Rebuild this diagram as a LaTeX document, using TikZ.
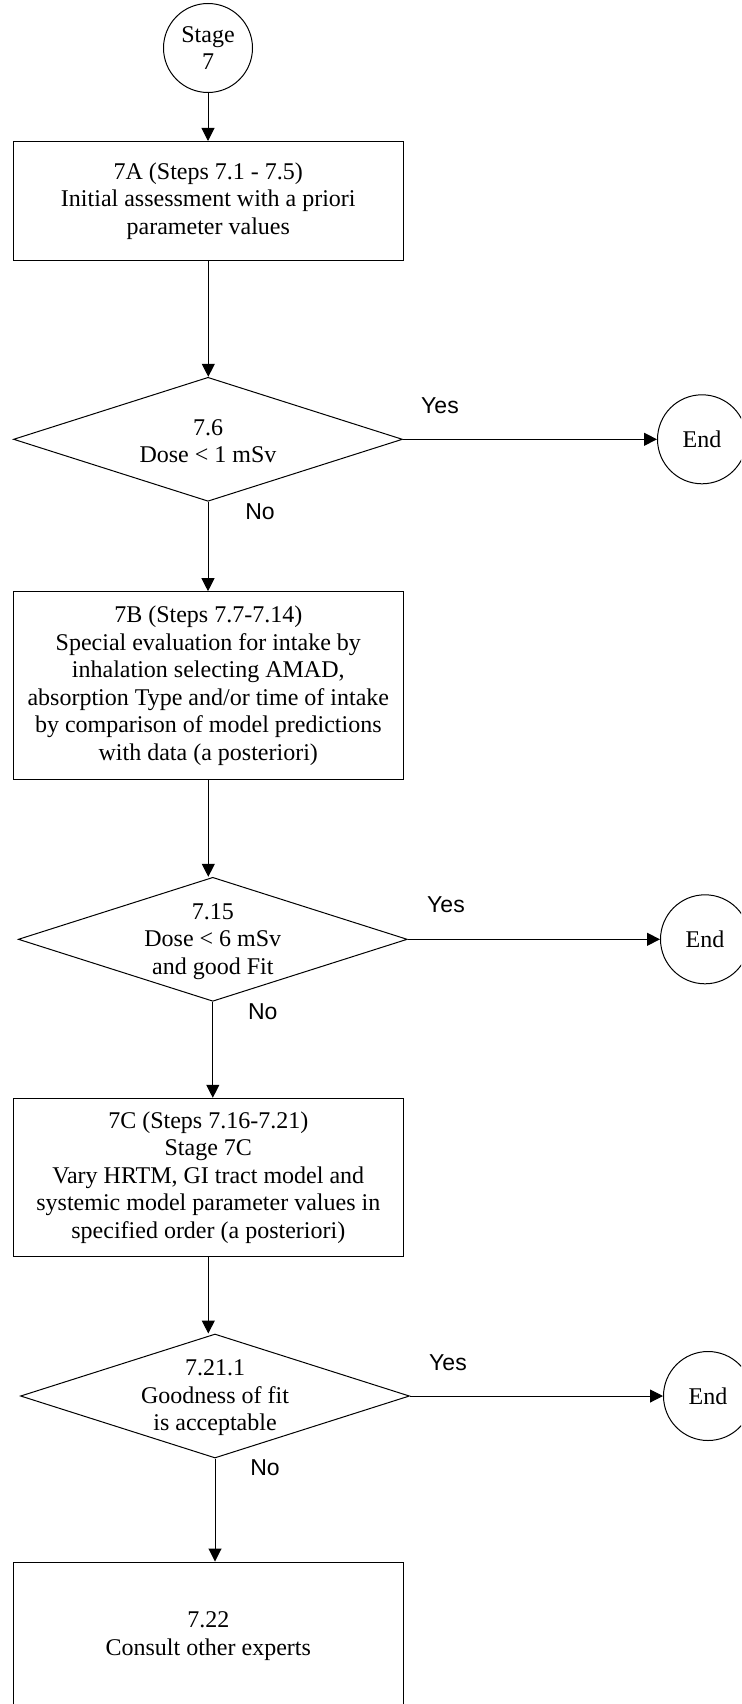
\documentclass[tikz,border=0pt]{standalone}
\usepackage{fontspec}
\setmainfont{Liberation Serif}
\newfontfamily\lblfont{Liberation Sans}
\usetikzlibrary{shapes.geometric,arrows.meta,calc}
\tikzset{
  base/.style={draw=black, line width=1pt},
  txt/.style={font=\fontsize{24}{27.5}\selectfont, align=center, inner sep=0pt},
  procbox/.style={base, rectangle, minimum width=390pt, inner sep=0pt, font=\fontsize{24}{27.5}\selectfont, align=center},
  termcirc/.style={base, circle, minimum size=89pt, inner sep=0pt, font=\fontsize{24}{27.5}\selectfont, align=center},
  decision/.style={base, diamond, minimum width=389pt, minimum height=124pt, inner sep=0pt},
  yn/.style={font=\lblfont\fontsize{23}{26}\selectfont, inner sep=0pt},
  arr/.style={line width=1pt, -{Triangle[length=13pt,width=13pt]}}
}
\begin{document}
\begin{tikzpicture}[x=1pt,y=-1pt]
\useasboundingbox (0,0) rectangle (741,1704);
\clip (0,0) rectangle (741,1704);
% start
\node[termcirc] (stage) at (208,48) {Stage\\7};
% box A
\node[procbox, minimum height=119pt] (A) at (208.3,201) {7A (Steps 7.1 - 7.5)\\Initial assessment with a priori\\parameter values};
% decision 1
\node[decision] (d1) at (208,439.3) {};
\node[txt] (d1t) at (208,441) {7.6\\Dose {\textless} 1 mSv};
\node[termcirc] (e1) at (702,439.3) {End};
\node[yn] (y1) at (440,406) {Yes};
\node[yn] (n1) at (260,511.7) {No};
% box B
\node[procbox, minimum height=187.6pt] (B) at (208.3,685.5) {7B (Steps 7.7-7.14)\\Special evaluation for intake by\\inhalation selecting AMAD,\\absorption Type and/or time of intake\\by comparison of model predictions\\with data (a posteriori)};
% decision 2
\node[decision] (d2) at (212.8,939.3) {};
\node[txt] (d2t) at (212.8,941.5) {7.15\\Dose {\textless} 6 mSv\\and good Fit};
\node[termcirc] (e2) at (705,939.3) {End};
\node[yn] (y2) at (446,905) {Yes};
\node[yn] (n2) at (262.7,1011.7) {No};
% box C
\node[procbox, minimum height=158.4pt] (C) at (208.3,1177.5) {7C (Steps 7.16-7.21)\\Stage 7C\\Vary HRTM, GI tract model and\\systemic model parameter values in\\specified order (a posteriori)};
% decision 3
\node[decision] (d3) at (215,1396) {};
\node[txt] (d3t) at (215,1398) {7.21.1\\Goodness of fit\\is acceptable};
\node[termcirc] (e3) at (708,1396) {End};
\node[yn] (y3) at (448,1363) {Yes};
\node[yn] (n3) at (265,1467.7) {No};
% box D
\node[procbox, minimum height=148pt] (D) at (208.3,1636) {7.22\\Consult other experts};
% connectors
\draw[arr] (stage.south) -- (stage.south |- A.north);
\draw[arr] (A.south) -- (A.south |- d1.north);
\draw[arr] (d1.south) -- (d1.south |- B.north);
\draw[arr] (B.south) -- (B.south |- d2.north);
\draw[arr] (d2.south) -- (d2.south |- C.north);
\draw[arr] (C.south) -- (C.south |- d3.north);
\draw[arr] (d3.south) -- (d3.south |- D.north);
\draw[arr] (d1.east) -- (e1.west);
\draw[arr] (d2.east) -- (e2.west);
\draw[arr] (d3.east) -- (e3.west);
\end{tikzpicture}
\end{document}
